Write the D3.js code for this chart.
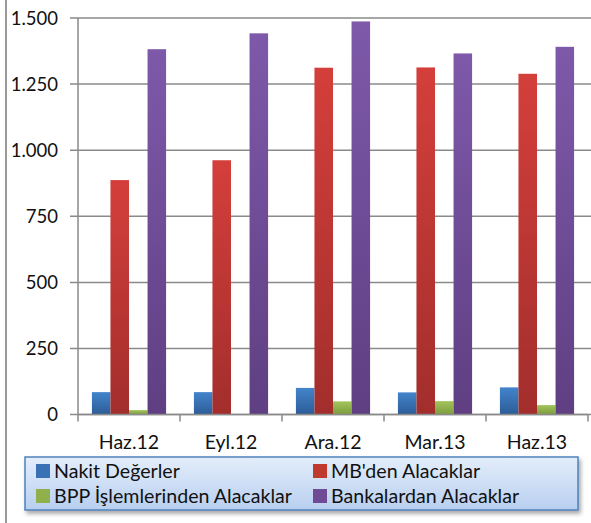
<!DOCTYPE html>
<html>
<head>
<meta charset="utf-8">
<script src="https://cdn.jsdelivr.net/npm/d3@7"></script>
<style>
  body { margin: 0; background: #fff; }
  svg text { font-family: Lato, "Open Sans", sans-serif; fill: #111; }
</style>
</head>
<body>
<div id="chart"></div>
<script>
// categories and series
const categories = ['Haz.12', 'Eyl.12', 'Ara.12', 'Mar.13', 'Haz.13']
const seriesNames = ['Nakit Değerler', "MB'den Alacaklar", 'BPP İşlemlerinden Alacaklar', 'Bankalardan Alacaklar']
const nakit = [85, 85, 101, 84, 103]
const mb = [887, 962, 1312, 1313, 1289]
const bpp = [17, 1, 50, 51, 36]
const bankalar = [1382, 1442, 1487, 1366, 1391]
const yTicks = [0, 250, 500, 750, 1000, 1250, 1500]

const seriesValues = [nakit, mb, bpp, bankalar]
const colors = [
  ['#4384cc', '#2c5c96'],
  ['#d43f3b', '#a22e2c'],
  ['#a2c45c', '#7d9c3c'],
  ['#7e59aa', '#5f3f82']
]
const swatch = ['#3a70b4', '#c0392f', '#8fb04a', '#6f4b96']

const width = 591
const height = 523

const svg = d3.select('#chart').append('svg')
  .attr('width', width)
  .attr('height', height)

const defs = svg.append('defs')
colors.forEach((c, i) => {
  const g = defs.append('linearGradient')
    .attr('id', 'g' + i)
    .attr('x1', 0).attr('y1', 0).attr('x2', 0).attr('y2', 1)
  g.append('stop').attr('offset', '0%').attr('stop-color', c[0])
  g.append('stop').attr('offset', '100%').attr('stop-color', c[1])
})
const lg = defs.append('linearGradient')
  .attr('id', 'legbg')
  .attr('x1', 0).attr('y1', 0).attr('x2', 0).attr('y2', 1)
lg.append('stop').attr('offset', '0%').attr('stop-color', '#e4eefb')
lg.append('stop').attr('offset', '100%').attr('stop-color', '#b8cff0')
const sh = defs.append('filter').attr('id', 'shadow')
  .attr('x', '-5%').attr('y', '-20%').attr('width', '115%').attr('height', '150%')
sh.append('feDropShadow')
  .attr('dx', 2).attr('dy', 3).attr('stdDeviation', 2)
  .attr('flood-color', '#000').attr('flood-opacity', 0.35)

// outer frame line on the left
svg.append('line')
  .attr('x1', 6).attr('x2', 6).attr('y1', 0).attr('y2', height)
  .attr('stroke', '#9a9a9a').attr('stroke-width', 2)

const x0 = d3.scaleBand()
  .domain(categories)
  .range([78, 588])
  .paddingInner(0)
  .paddingOuter(0)

const x1 = d3.scaleBand()
  .domain(d3.range(seriesNames.length))
  .range([0, x0.bandwidth()])
  .paddingOuter(0.75)
  .paddingInner(0)

const y = d3.scaleLinear()
  .domain([0, 1500])
  .range([414.6, 18])

// gridlines
svg.append('g')
  .selectAll('line')
  .data(yTicks)
  .join('line')
  .attr('x1', 70).attr('x2', width)
  .attr('y1', d => y(d)).attr('y2', d => y(d))
  .attr('stroke', '#8a8a8a')
  .attr('stroke-width', 1.5)

// y axis labels
svg.append('g')
  .selectAll('text')
  .data(yTicks)
  .join('text')
  .attr('x', 58)
  .attr('y', d => y(d))
  .attr('dy', '0.36em')
  .attr('text-anchor', 'end')
  .attr('font-size', 18.5)
  .text(d => d3.format(',')(d).replace(/,/g, '.'))

// bars
const groups = svg.append('g')
  .selectAll('g')
  .data(categories)
  .join('g')
  .attr('transform', d => `translate(${x0(d)},0)`)

groups.selectAll('rect')
  .data((d, ci) => seriesValues.map((vals, si) => ({ si, v: vals[ci] })))
  .join('rect')
  .attr('x', d => x1(d.si))
  .attr('width', x1.bandwidth())
  .attr('y', d => y(d.v))
  .attr('height', d => y(0) - y(d.v))
  .attr('fill', d => `url(#g${d.si})`)

// axes lines
svg.append('line')
  .attr('x1', 78).attr('x2', 78).attr('y1', 18).attr('y2', y(0))
  .attr('stroke', '#8a8a8a').attr('stroke-width', 1.5)
svg.append('line')
  .attr('x1', 78).attr('x2', 588).attr('y1', y(0)).attr('y2', y(0))
  .attr('stroke', '#8a8a8a').attr('stroke-width', 1.5)

// category ticks
const tickXs = categories.map(c => x0(c)).concat([x0.range()[1]])
svg.append('g')
  .selectAll('line')
  .data(tickXs)
  .join('line')
  .attr('x1', d => d).attr('x2', d => d)
  .attr('y1', y(0)).attr('y2', y(0) + 7)
  .attr('stroke', '#8a8a8a').attr('stroke-width', 1.5)

svg.append('g')
  .selectAll('text')
  .data(categories)
  .join('text')
  .attr('x', d => x0(d) + x0.bandwidth() / 2)
  .attr('y', 449)
  .attr('text-anchor', 'middle')
  .attr('font-size', 19.5)
  .text(d => d)

// legend
const legend = svg.append('g')
legend.append('rect')
  .attr('x', 25).attr('y', 457)
  .attr('width', 553).attr('height', 53)
  .attr('fill', 'url(#legbg)')
  .attr('stroke', '#4f81bd')
  .attr('stroke-width', 1.5)
  .attr('filter', 'url(#shadow)')

const legendPos = [
  { x: 36, y: 471 },
  { x: 313, y: 471 },
  { x: 36, y: 496 },
  { x: 313, y: 496 }
]
const items = legend.selectAll('g.item')
  .data(seriesNames)
  .join('g')
  .attr('class', 'item')
  .attr('transform', (d, i) => `translate(${legendPos[i].x},${legendPos[i].y})`)

items.append('rect')
  .attr('x', 0).attr('y', -7)
  .attr('width', 14).attr('height', 14)
  .attr('fill', (d, i) => swatch[i])

items.append('text')
  .attr('x', 18)
  .attr('dy', '0.36em')
  .attr('font-size', 19.6)
  .text(d => d)
</script>
</body>
</html>
